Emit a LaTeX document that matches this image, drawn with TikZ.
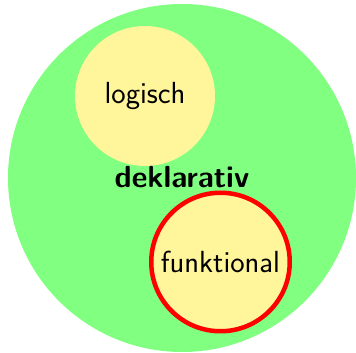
\documentclass[tikz,border=0pt]{standalone}
\begin{document}
\begin{tikzpicture}[x=1pt,y=1pt,
  big/.style={circle,fill=biggreen,inner sep=0pt,minimum size=348pt},
  sub/.style={circle,fill=subyellow,inner sep=0pt,font=\sffamily\fontsize{30.5}{33}\selectfont},
  hl/.style={draw=red,line width=4.5pt},
  lbl/.style={font=\sffamily\bfseries\fontsize{30.5}{33}\selectfont,anchor=base}]
\definecolor{biggreen}{RGB}{128,255,128}
\definecolor{subyellow}{RGB}{255,245,155}
\useasboundingbox (0,0) rectangle (356,353);
\node[big] (decl) at (182,175) {};
\node[sub,minimum size=140pt] (log) at (145,257) {logisch};
\node[sub,hl,minimum size=138.5pt] (fun) at (220.5,91) {funktional};
\node[lbl] (dl) at (182,165) {deklarativ};
\end{tikzpicture}
\end{document}
